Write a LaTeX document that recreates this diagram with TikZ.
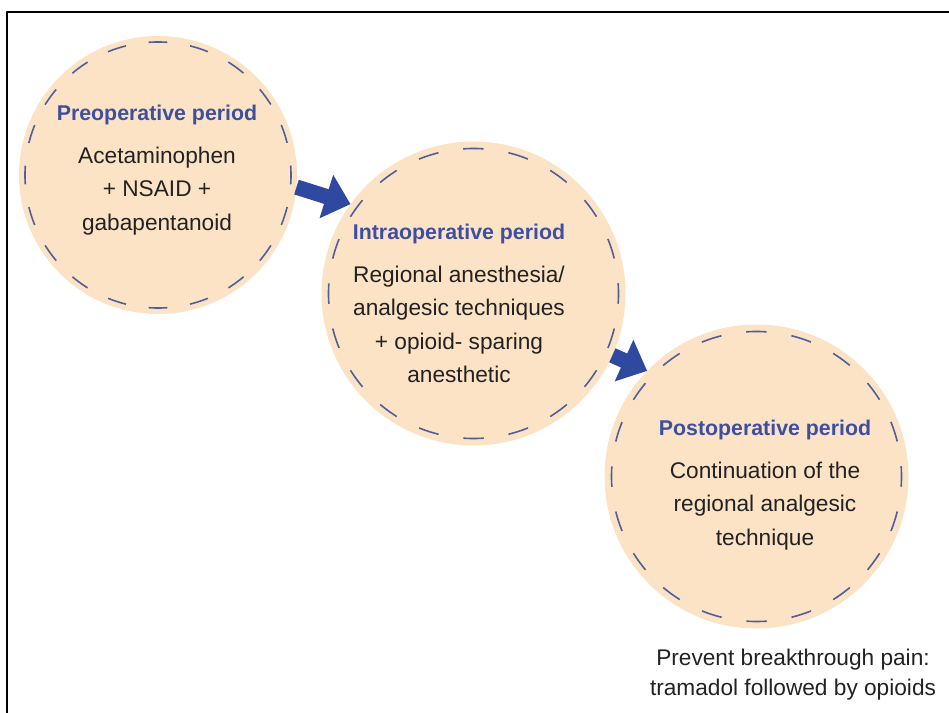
\documentclass[tikz,border=0pt]{standalone}
\usepackage{fontspec}
\setmainfont{Liberation Sans}
\usetikzlibrary{arrows.meta}
\definecolor{peach}{HTML}{FCE3C5}
\definecolor{ttlblue}{HTML}{3D4FA1}
\definecolor{arrblue}{HTML}{2F48A0}
\definecolor{ringblue}{HTML}{4E5F9C}
\definecolor{txtgray}{HTML}{222222}
\newcommand\phasetitle[1]{{\color{ttlblue}\bfseries\fontsize{16}{25}\selectfont #1}}
\begin{document}
\begin{tikzpicture}[x=0.75pt, y=-0.75pt, line join=round, line cap=round,
  phase/.style={circle, fill=peach, inner sep=0pt, outer sep=0pt},
  ring/.style={draw=ringblue, line width=1.2pt, line cap=butt},
  body/.style={align=center, text=txtgray, inner sep=0pt, font=\fontsize{17}{25}\selectfont},
  bigarrow/.style={draw=arrblue, line width=11.5pt, line cap=butt, -{Triangle[length=19pt, width=33pt, fill=arrblue]}}]
 \useasboundingbox (0,0) rectangle (949,713);
 \draw[line width=1.5pt, line cap=butt] (6.5,713)--(6.5,12)--(949,12);
 \node[phase, minimum size=208.5pt] (pre) at (158,175) {};
 \node[phase, minimum size=228pt] (intra) at (473.5,293.5) {};
 \node[phase, minimum size=228pt] (post) at (756.5,476.5) {};
 \foreach \n/\r in {pre/133,intra/145,post/145}{
  \pgfmathsetmacro\per{2*pi*\r*0.75/20}
  \pgfmathsetmacro\don{0.45*\per}
  \pgfmathsetmacro\doff{\per-\don}
  \pgfmathsetmacro\dph{0.5*\don}
  \draw[ring, dash pattern=on \don pt off \doff pt, dash phase=\dph pt] (\n.center) circle[radius=\r];
 }
 \node[body] (pre-t) at (157,170) {\phasetitle{Preoperative period}\\[7pt] Acetaminophen\\ + NSAID +\\ gabapentanoid};
 \node[body] (intra-t) at (459,303.5) {\phasetitle{Intraoperative period}\\[7pt] Regional anesthesia/\\ analgesic techniques\\ + opioid- sparing\\ anesthetic};
 \node[body] (post-t) at (765,485) {\phasetitle{Postoperative period}\\[7pt] Continuation of the\\ regional analgesic\\ technique};
 \node[body, font=\fontsize{17}{22.5}\selectfont] (note) at (793,675) {Prevent breakthrough pain:\\ tramadol followed by opioids};
 \draw[bigarrow] (pre.-5.5)--(intra.144);
 \draw[bigarrow] (intra.-24.6)--(post.136.3);
\end{tikzpicture}
\end{document}
